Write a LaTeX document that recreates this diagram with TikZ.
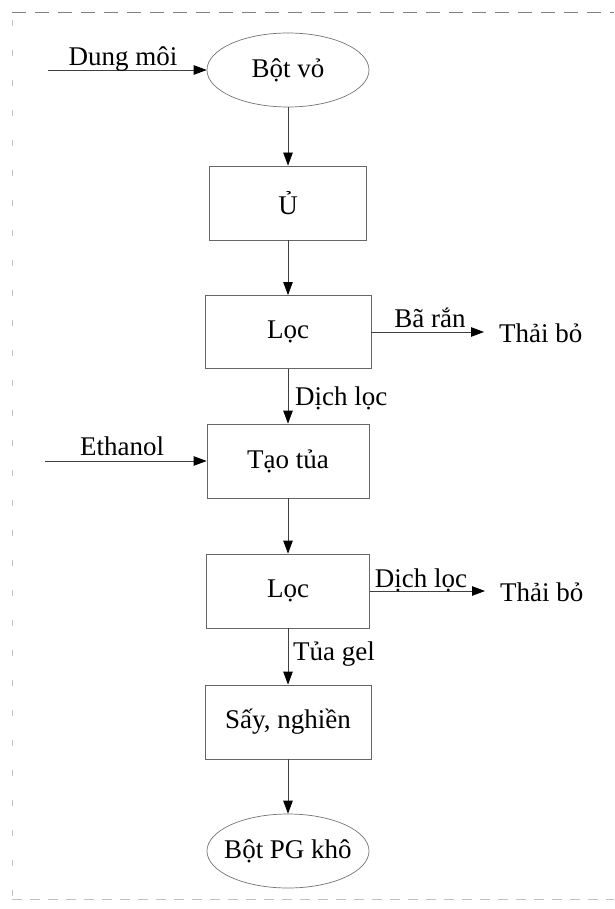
\documentclass[tikz,border=0pt]{standalone}
\usepackage{fontspec}
\setmainfont{Liberation Serif}
\usetikzlibrary{arrows.meta,shapes.geometric}
\begin{document}
\begin{tikzpicture}[x=1pt,y=-1pt,
  every node/.style={font=\fontsize{27}{32}\selectfont},
  stepbox/.style={draw=black!60, line width=0.8pt, minimum width=164pt,
    minimum height=74pt, inner sep=0pt},
  endpoint/.style={ellipse, draw=black!55, line width=0.7pt,
    minimum width=162pt, minimum height=74pt, inner sep=0pt},
  flow/.style={draw=black!75, line width=0.8pt,
    -{Triangle[length=13pt,width=9.5pt,color=black]}},
  lbl/.style={anchor=base, inner sep=0pt},
  sidelbl/.style={anchor=base west, inner sep=0pt},
  waste/.style={anchor=west, inner xsep=15pt, inner ysep=0pt,
    text height=20pt, text depth=0pt},
  frame/.style={line width=0.8pt}
]
% page area and dashed frame
\useasboundingbox (0,0) rectangle (614,909);
\draw[frame, black!50, dash pattern=on 14pt off 9pt] (12,12) -- (614,12);
\draw[frame, black!25, dash pattern=on 6pt off 24pt] (12,20) -- (12,899);
\draw[frame, black!25, dash pattern=on 10pt off 8pt] (12,899) -- (614,899);

% process steps
\node[endpoint] (bot) at (288,70) {\makebox[0pt]{Bột vỏ}};
\node[stepbox, minimum width=157pt] (u) at (288,203) {Ủ};
\node[stepbox, minimum width=166pt, minimum height=73pt] (loc1) at (288,332) {Lọc};
\node[stepbox, minimum width=162pt] (tao) at (288,461) {Tạo tủa};
\node[stepbox, minimum width=163pt] (loc2) at (288,591) {Lọc};
\node[stepbox, minimum width=166pt] (say) at (288,722) {Sấy, nghiền};
\node[endpoint] (pg) at (288,851) {\makebox[0pt]{Bột PG khô}};

% main flow
\draw[flow] (bot) -- (u);
\draw[flow] (u) -- (loc1);
\draw[flow] (loc1) -- (tao);
\draw[flow] (tao) -- (loc2);
\draw[flow] (loc2) -- (say);
\draw[flow] (say) -- (pg);
\node[sidelbl] (dl1) at (295,405) {Dịch lọc};
\node[sidelbl] (tg) at (293,660) {Tủa gel};

% inputs
\coordinate (dmin) at (48,70);
\draw[flow] (dmin) -- (bot.west);
\node[lbl] (dmt) at (123,66) {Dung môi};
\coordinate (etin) at (45,461);
\draw[flow] (etin) -- (tao.west);
\node[lbl] (ett) at (122,455) {Ethanol};

% waste streams
\node[waste] (tb1) at (484,332) {Thải bỏ};
\draw[flow] (loc1.east) -- (tb1.west);
\node[lbl] (br) at (430,327) {Bã rắn};
\node[waste] (tb2) at (485,591) {Thải bỏ};
\draw[flow] (loc2.east) -- (tb2.west);
\node[lbl] (dl2) at (421,587) {Dịch lọc};
\end{tikzpicture}
\end{document}
